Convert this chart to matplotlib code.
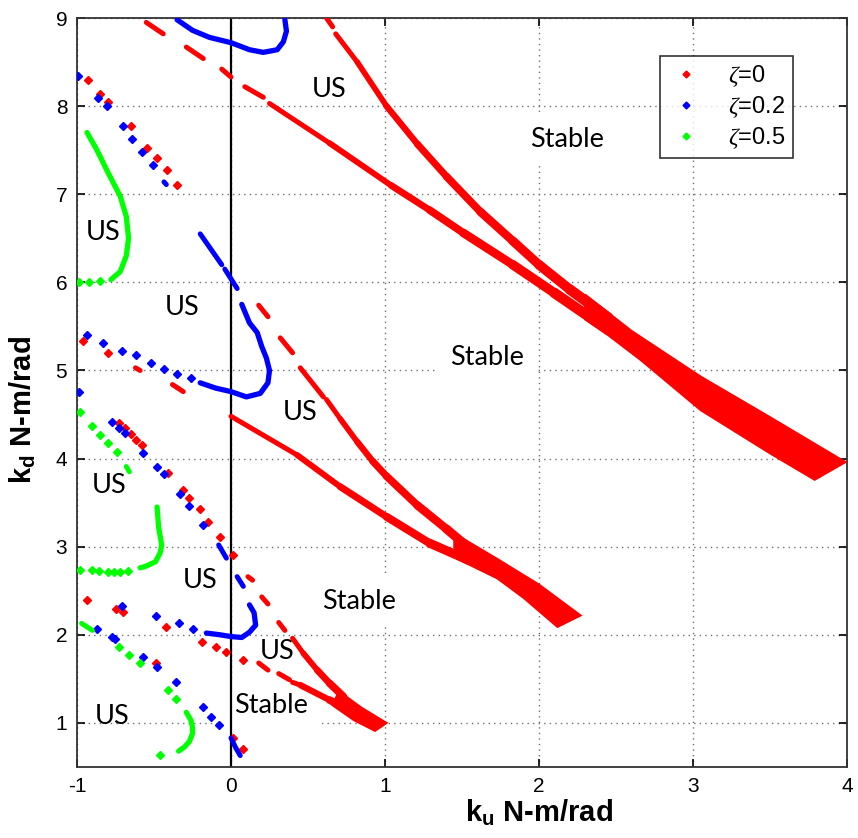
import numpy as np
import matplotlib
matplotlib.use("Agg")
import matplotlib.pyplot as plt
from matplotlib.collections import LineCollection
from matplotlib.lines import Line2D

nan = np.nan

# ---------------- stability boundary data (k_u, k_d) ----------------
# zeta = 0 : three wedge-shaped boundaries, upper / lower branches
w3_up_x = [0.68, 0.82, 1.01, 1.21, 1.40, 1.62, 1.83, 2.00, 2.20, 2.45]
w3_up_y = [8.82, 8.50, 8.00, 7.57, 7.20, 6.80, 6.47, 6.20, 5.92, 5.60]
w3_lo_x = [0.25, 0.64, 1.04, 1.29, 1.51, 1.83, 2.10, 2.45]
w3_lo_y = [8.03, 7.58, 7.10, 6.82, 6.56, 6.20, 5.88, 5.46]
w3_band_x = [2.30, 2.60, 3.05, 3.50, 3.99, 3.79, 3.50, 3.05, 2.66, 2.45, 2.30]
w3_band_y = [5.86, 5.45, 4.93, 4.47, 3.96, 3.76, 4.06, 4.55, 5.12, 5.40, 5.58]

w2_up_x = [0.62, 0.71, 0.82, 0.92, 1.01, 1.21, 1.40, 1.55]
w2_up_y = [4.67, 4.45, 4.19, 3.97, 3.80, 3.47, 3.20, 2.98]
w2_lo_x = [0.00, 0.43, 0.71, 1.01, 1.29, 1.55]
w2_lo_y = [4.48, 4.04, 3.68, 3.34, 3.04, 2.84]
w2_band_x = [1.45, 1.73, 2.00, 2.27, 2.12, 1.90, 1.73, 1.45]
w2_band_y = [3.15, 2.86, 2.57, 2.22, 2.09, 2.42, 2.64, 2.88]

w1_up_x = [0.40, 0.47, 0.56, 0.64, 0.73]
w1_up_y = [1.96, 1.79, 1.60, 1.45, 1.30]
w1_lo_x = [0.40, 0.45, 0.64, 0.75]
w1_lo_y = [1.46, 1.43, 1.26, 1.16]
w1_band_x = [0.70, 0.85, 1.01, 0.935, 0.80, 0.66]
w1_band_y = [1.36, 1.17, 1.00, 0.91, 1.03, 1.20]

# zeta = 0 : short dashed runs and isolated points
red_dash_x = [-0.55, -0.44, nan, -0.29, -0.18, nan, -0.06, 0.00, nan, 0.09, 0.21, nan,
              0.62, 0.66, nan, 0.18, 0.24, nan, 0.32, 0.40, nan, 0.45, 0.60, nan,
              0.11, 0.14, nan, 0.20, 0.24, nan, 0.31, 0.35, nan, 0.18, 0.24, nan,
              0.31, 0.38, nan, -0.38, -0.31, nan, -0.62, -0.59]
red_dash_y = [8.95, 8.82, nan, 8.67, 8.54, nan, 8.42, 8.33, nan, 8.22, 8.10, nan,
              9.00, 8.90, nan, 5.74, 5.61, nan, 5.37, 5.20, nan, 5.03, 4.70, nan,
              2.66, 2.62, nan, 2.43, 2.35, nan, 2.14, 2.05, nan, 1.68, 1.60, nan,
              1.56, 1.49, nan, 4.84, 4.76, nan, 5.03, 5.00]
red_pt_x = [-0.93, -0.85, -0.80, -0.65, -0.545, -0.48, -0.415, -0.35,
            -0.96, -0.80, -0.73, -0.69, -0.65, -0.62, -0.58, -0.41, -0.31, -0.27,
            -0.20, -0.15, -0.07, 0.01, -0.935, -0.75, -0.70, -0.42, -0.19, -0.10,
            -0.03, -0.49, 0.08, 0.01, 0.08]
red_pt_y = [8.30, 8.14, 8.05, 7.77, 7.53, 7.41, 7.27, 7.10,
            5.33, 5.20, 4.40, 4.35, 4.28, 4.21, 4.15, 3.84, 3.64, 3.55,
            3.43, 3.28, 3.11, 2.91, 2.40, 2.29, 2.26, 2.09, 1.92, 1.86,
            1.80, 1.68, 1.71, 0.83, 0.70]

# zeta = 0.2
blue_top_x = [-0.35, -0.25, -0.14, 0.00, 0.12, 0.21, 0.30, 0.34, 0.36, 0.35]
blue_top_y = [8.98, 8.86, 8.78, 8.72, 8.64, 8.61, 8.64, 8.73, 8.85, 8.98]
blue_mid_x = [-0.20, -0.10, 0.00, 0.10, 0.19, 0.24, 0.25, 0.23, 0.20, 0.17, 0.12, 0.07]
blue_mid_y = [4.86, 4.80, 4.76, 4.70, 4.74, 4.86, 5.00, 5.14, 5.27, 5.43, 5.54, 5.75]
blue_low_x = [-0.16, -0.07, 0.00, 0.07, 0.12, 0.16, 0.15, 0.12]
blue_low_y = [2.02, 2.00, 1.98, 1.97, 2.03, 2.11, 2.25, 2.34]
blue_dash_x = [-0.08, -0.03, nan, 0.04, 0.08, nan, 0.00, 0.03, 0.06, nan,
               -0.20, -0.06, nan, -0.04, 0.04, nan, -0.435, -0.42]
blue_dash_y = [3.02, 2.87, nan, 2.66, 2.55, nan, 0.83, 0.72, 0.63, nan,
               6.55, 6.20, nan, 6.15, 5.93, nan, 7.14, 7.11]
blue_pt_x = [-0.994, -0.864, -0.805, -0.70, -0.643, -0.578, -0.506,
             -0.99, -0.935, -0.83, -0.71, -0.62, -0.52, -0.435, -0.35, -0.26,
             -0.77, -0.73, -0.69, -0.57, -0.48, -0.435, -0.33, -0.27, -0.18,
             -0.25, -0.34, -0.49, -0.71, -0.87, -0.77, -0.755, -0.57, -0.48,
             -0.36, -0.18, -0.13, -0.08]
blue_pt_y = [8.34, 8.09, 8.00, 7.77, 7.63, 7.48, 7.33,
             4.76, 5.40, 5.31, 5.22, 5.17, 5.09, 5.02, 4.96, 4.91,
             4.42, 4.35, 4.29, 4.06, 3.91, 3.83, 3.60, 3.46, 3.25,
             2.07, 2.13, 2.21, 2.33, 2.07, 1.97, 1.95, 1.75, 1.63,
             1.46, 1.18, 1.07, 0.98]

# zeta = 0.5
green_top_x = [-0.935, -0.87, -0.80, -0.72, -0.68, -0.665, -0.68, -0.72, -0.78]
green_top_y = [7.70, 7.50, 7.25, 6.98, 6.75, 6.50, 6.30, 6.12, 6.03]
green_mid_x = [-0.48, -0.47, -0.45, -0.46, -0.49, -0.55, -0.59]
green_mid_y = [3.45, 3.22, 3.02, 2.93, 2.83, 2.78, 2.76]
green_low_x = [-0.29, -0.26, -0.25, -0.25, -0.27, -0.30, -0.34]
green_low_y = [1.12, 1.03, 0.95, 0.88, 0.79, 0.73, 0.68]
green_dash_x = [-0.68, -0.66, nan, -0.97, -0.90]
green_dash_y = [3.91, 3.85, nan, 2.13, 2.05]
green_pt_x = [-0.85, -0.92, -0.99, -0.67, -0.72, -0.76, -0.80, -0.86, -0.90, -0.98,
              -0.98, -0.90, -0.85, -0.80, -0.74, -0.73, -0.66, -0.59, -0.41, -0.36, -0.46]
green_pt_y = [6.01, 6.00, 6.00, 2.72, 2.71, 2.71, 2.71, 2.72, 2.73, 2.73,
              4.53, 4.37, 4.27, 4.18, 4.07, 1.86, 1.77, 1.68, 1.37, 1.27, 0.64]

# region annotations
region_text = ["US", "Stable", "US", "US", "Stable", "US", "US", "US", "Stable", "US", "Stable", "US"]
region_x = [0.64, 2.18, -0.83, -0.32, 1.66, 0.45, -0.79, -0.20, 0.83, 0.30, 0.26, -0.77]
region_y = [8.19, 7.62, 6.57, 5.72, 5.15, 4.52, 3.70, 2.62, 2.38, 1.81, 1.20, 1.07]

legend_labels = [r"$\zeta$=0", r"$\zeta$=0.2", r"$\zeta$=0.5"]
x_ticks = [-1, 0, 1, 2, 3, 4]
y_ticks = [1, 2, 3, 4, 5, 6, 7, 8, 9]

# ---------------- styling ----------------
plt.rcParams["font.family"] = ["Liberation Sans", "DejaVu Sans"]
plt.rcParams["mathtext.fontset"] = "custom"
plt.rcParams["mathtext.rm"] = "Liberation Sans"
plt.rcParams["mathtext.bf"] = "Liberation Sans:bold"
plt.rcParams["mathtext.it"] = "Liberation Serif:italic"
plt.rcParams["axes.unicode_minus"] = False

RED, BLUE, GREEN = (1, 0, 0), (0, 0, 1), (0, 1, 0)

fig = plt.figure(figsize=(8.58, 8.38), dpi=100)
ax = fig.add_axes([77 / 858, 1 - 767 / 838, 770 / 858, 749 / 838])
ax.set_xlim(-1, 4)
ax.set_ylim(0.5, 9)
ax.set_xticks(x_ticks)
ax.set_yticks(y_ticks)
ax.grid(True, color="#707070", linestyle=(0, (1, 3)), linewidth=1.0)
ax.set_axisbelow(True)
ax.tick_params(direction="in", length=6, width=1.2, top=True, right=True,
               labelsize=15, pad=7)
for s in ax.spines.values():
    s.set_linewidth(1.3)
    s.set_color("#333333")

ax.axvline(0, color="black", lw=1.6, zorder=1.5)


def branch(xs, ys, w0, w1, color):
    pts = np.column_stack([xs, ys])
    segs = np.stack([pts[:-1], pts[1:]], axis=1)
    widths = np.linspace(w0, w1, len(segs))
    ax.add_collection(LineCollection(segs, colors=[color], linewidths=widths,
                                     capstyle="round", joinstyle="round", zorder=3))


# zeta = 0
branch(w3_up_x, w3_up_y, 3.6, 7.5, RED)
branch(w3_lo_x, w3_lo_y, 3.6, 7.5, RED)
ax.fill(w3_band_x, w3_band_y, color=RED, lw=1.5, ec=RED, zorder=3)
branch(w2_up_x, w2_up_y, 3.6, 6.5, RED)
branch(w2_lo_x, w2_lo_y, 3.6, 6.5, RED)
ax.fill(w2_band_x, w2_band_y, color=RED, lw=1.5, ec=RED, zorder=3)
branch(w1_up_x, w1_up_y, 3.6, 5.5, RED)
branch(w1_lo_x, w1_lo_y, 3.6, 5.5, RED)
ax.fill(w1_band_x, w1_band_y, color=RED, lw=1.5, ec=RED, zorder=3)
ax.plot(red_dash_x, red_dash_y, color=RED, lw=3.6, solid_capstyle="round", zorder=3)
ax.plot(red_pt_x, red_pt_y, ls="none", marker="D", ms=4, color=RED, zorder=3)

# zeta = 0.2
for xs, ys in [(blue_top_x, blue_top_y), (blue_mid_x, blue_mid_y), (blue_low_x, blue_low_y)]:
    ax.plot(xs, ys, color=BLUE, lw=3.8, solid_capstyle="round", solid_joinstyle="round", zorder=3)
ax.plot(blue_dash_x, blue_dash_y, color=BLUE, lw=3.6, solid_capstyle="round", zorder=3)
ax.plot(blue_pt_x, blue_pt_y, ls="none", marker="D", ms=4, color=BLUE, zorder=3)

# zeta = 0.5
for xs, ys in [(green_top_x, green_top_y), (green_mid_x, green_mid_y), (green_low_x, green_low_y)]:
    ax.plot(xs, ys, color=GREEN, lw=3.8, solid_capstyle="round", solid_joinstyle="round", zorder=3)
ax.plot(green_dash_x, green_dash_y, color=GREEN, lw=3.6, solid_capstyle="round", zorder=3)
ax.plot(green_pt_x, green_pt_y, ls="none", marker="D", ms=4, color=GREEN, zorder=3)

# region names sit above the grid but beneath the boundary marks
for t, x, y in zip(region_text, region_x, region_y):
    box = dict(boxstyle="square,pad=0.45", fc="white", ec="none") if t == "Stable" else None
    ax.text(x, y, t, family="Lato", fontsize=19.5, ha="center", va="center",
            zorder=1.0, bbox=box)

handles = [Line2D([], [], ls="none", marker="D", ms=3.5, color=c) for c in (RED, BLUE, GREEN)]
leg = ax.legend(handles, legend_labels, loc="upper left", bbox_to_anchor=(0.757, 0.949),
                fontsize=17, frameon=True, fancybox=False, edgecolor="black",
                borderpad=0.3, handlelength=1.6, handletextpad=1.0, labelspacing=0.22,
                borderaxespad=0)
leg.get_frame().set_linewidth(1.2)

ax.set_xlabel(r"$\mathbf{k_u}$ N-m/rad", fontsize=21, fontweight="bold")
ax.xaxis.set_label_coords(0.6, -0.04)
ax.set_ylabel(r"$\mathbf{k_d}$ N-m/rad", fontsize=21, fontweight="bold")
ax.yaxis.set_label_coords(-0.05, 0.477)

fig.savefig("out.png", dpi=100)
